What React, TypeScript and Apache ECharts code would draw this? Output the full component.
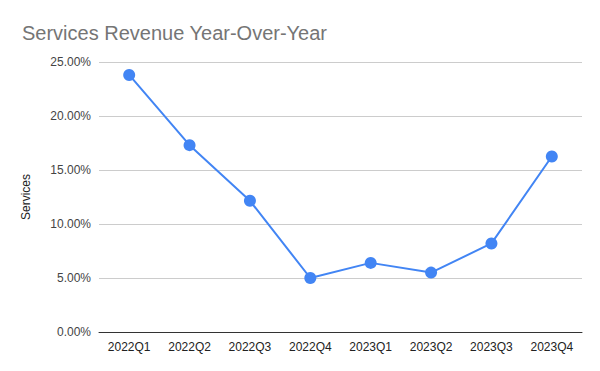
import React, { useEffect, useRef } from "react";
import * as echarts from "echarts";

const categories = ["2022Q1", "2022Q2", "2022Q3", "2022Q4", "2023Q1", "2023Q2", "2023Q3", "2023Q4"];
const servicesYoY = [0.238, 0.173, 0.1215, 0.05, 0.064, 0.055, 0.082, 0.1625];

export default function App() {
  const ref = useRef<HTMLDivElement>(null);
  useEffect(() => {
    const chart = echarts.init(ref.current!, null, { renderer: "svg" });
    chart.setOption({
      animation: false,
      backgroundColor: "#ffffff",
      title: {
        text: "Services Revenue Year-Over-Year",
        left: 17,
        top: 18,
        textStyle: { fontFamily: "Liberation Sans, Arial, sans-serif", fontSize: 20, fontWeight: "normal", color: "#757575" },
      },
      grid: { left: 99, right: 18, top: 62, bottom: 39 },
      xAxis: {
        type: "category",
        data: categories,
        axisLine: { lineStyle: { color: "#333333", width: 1 } },
        axisTick: { show: false },
        axisLabel: { color: "#222222", fontSize: 12, fontFamily: "Liberation Sans, Arial, sans-serif", margin: 9 },
      },
      yAxis: {
        type: "value",
        min: 0,
        max: 0.25,
        interval: 0.05,
        name: "Services",
        nameLocation: "middle",
        nameGap: 67,
        nameTextStyle: { color: "#222222", fontSize: 12, fontFamily: "Liberation Sans, Arial, sans-serif" },
        axisLine: { show: false },
        axisTick: { show: false },
        splitLine: { lineStyle: { color: "#cccccc", width: 1 } },
        axisLabel: {
          color: "#444444",
          fontSize: 12,
          fontFamily: "Liberation Sans, Arial, sans-serif",
          margin: 8,
          formatter: (v: number) => (v * 100).toFixed(2) + "%",
        },
      },
      series: [
        {
          type: "line",
          data: servicesYoY,
          symbol: "circle",
          symbolSize: 12,
          lineStyle: { color: "#4285F4", width: 2 },
          itemStyle: { color: "#4285F4" },
        },
      ],
    });
    return () => chart.dispose();
  }, []);
  return <div ref={ref} style={{ width: 600, height: 371, position: "absolute", left: 0, top: 0 }} />;
}
